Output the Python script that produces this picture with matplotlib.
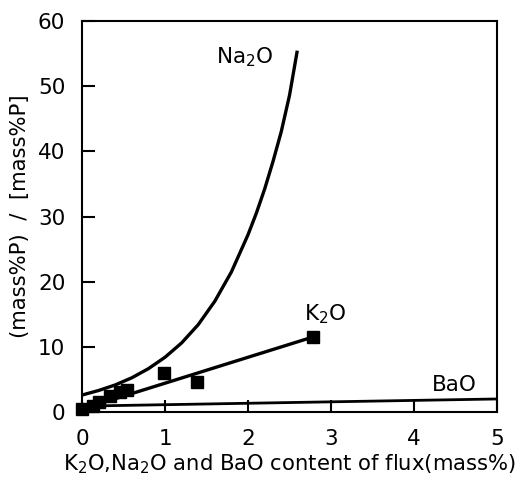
import matplotlib
matplotlib.use('Agg')
import matplotlib.pyplot as plt

# K2O measured points
k2o_x = [0.0, 0.13, 0.2, 0.34, 0.46, 0.54, 0.99, 1.39, 2.78]
k2o_y = [0.45, 0.9, 1.5, 2.4, 3.1, 3.4, 6.0, 4.6, 11.5]

# K2O fitted line (end points)
k2o_fit_x = [0.1, 2.78]
k2o_fit_y = [0.84, 11.5]

# Na2O curve
na2o_x = [0.0, 0.2, 0.4, 0.6, 0.8, 1.0, 1.2, 1.4, 1.6, 1.8, 2.0, 2.1, 2.2,
          2.3, 2.4, 2.5, 2.59]
na2o_y = [2.6, 3.3, 4.15, 5.25, 6.65, 8.4, 10.6, 13.4, 17.0, 21.5, 27.2, 30.5, 34.2,
          38.4, 43.0, 48.6, 55.2]

# BaO line
bao_x = [0.0, 5.0]
bao_y = [0.9, 2.0]

fig = plt.figure(figsize=(5.21, 4.83), dpi=100)
ax = fig.add_axes([0.1574, 0.147, 0.7966, 0.8095])

ax.plot(na2o_x, na2o_y, color='black', lw=2.4)
ax.plot(k2o_fit_x, k2o_fit_y, color='black', lw=2.4)
ax.plot(bao_x, bao_y, color='black', lw=2.0)
ax.plot(k2o_x, k2o_y, 's', color='black', ms=8, clip_on=False)

ax.text(2.30, 54.5, 'Na$_2$O', fontsize=15.5, ha='right', va='center')
ax.text(2.93, 15.0, 'K$_2$O', fontsize=15.5, ha='center', va='center')
ax.text(4.48, 4.2, 'BaO', fontsize=15.5, ha='center', va='center')

ax.set_xlim(0, 5)
ax.set_ylim(0, 60)
ax.set_xticks([0, 1, 2, 3, 4, 5])
ax.set_yticks([0, 10, 20, 30, 40, 50, 60])
ax.tick_params(direction='in', length=9, width=1.5, labelsize=15.5)
ax.tick_params(axis='x', pad=12)
ax.tick_params(axis='y', pad=12)
for s in ax.spines.values():
    s.set_linewidth(1.5)

ax.set_xlabel('K$_2$O,Na$_2$O and BaO content of flux(mass%)', fontsize=15.2, labelpad=3)
ax.set_ylabel('(mass%P)  /  [mass%P]', fontsize=15.2, labelpad=6)

fig.savefig('out.png', dpi=100)
